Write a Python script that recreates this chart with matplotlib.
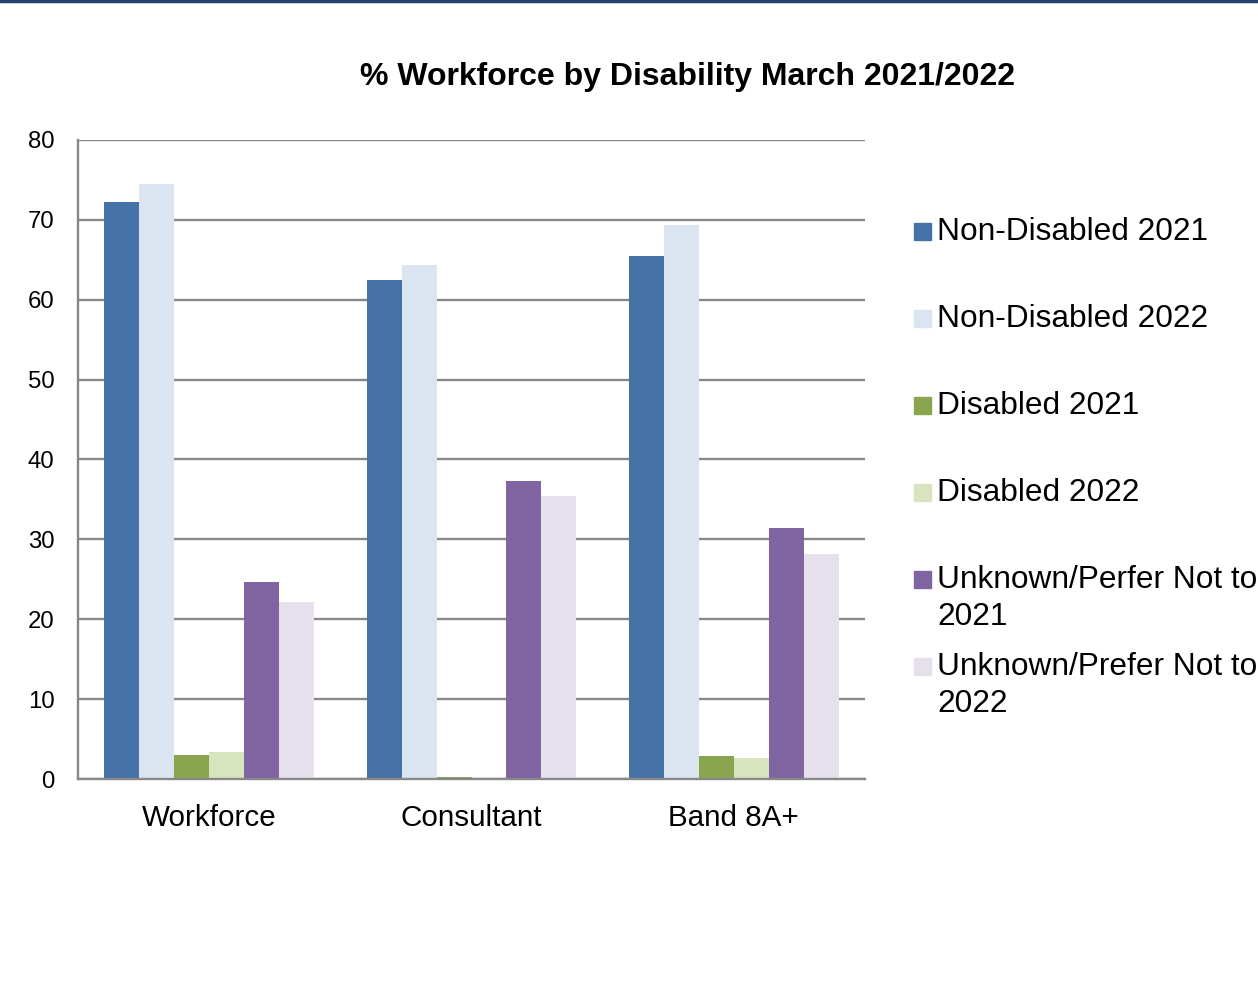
import matplotlib.pyplot as plt
import numpy as np
from matplotlib.patches import Rectangle
from matplotlib.lines import Line2D

plt.rcParams['font.family'] = ['Liberation Sans', 'DejaVu Sans']

categories = ['Workforce', 'Consultant', 'Band 8A+']
series_names = ['Non-Disabled 2021', 'Non-Disabled 2022', 'Disabled 2021',
                'Disabled 2022', 'Unknown/Perfer Not to\n2021', 'Unknown/Prefer Not to\n2022']
nondisabled_2021 = [72.2, 62.5, 65.5]
nondisabled_2022 = [74.5, 64.3, 69.3]
disabled_2021 = [3.0, 0.2, 2.9]
disabled_2022 = [3.4, 0.1, 2.6]
unknown_2021 = [24.7, 37.3, 31.4]
unknown_2022 = [22.2, 35.4, 28.2]
series = [nondisabled_2021, nondisabled_2022, disabled_2021,
          disabled_2022, unknown_2021, unknown_2022]
colors = ['#4572A7', '#DBE5F1', '#89A54E', '#D7E4BD', '#8064A2', '#E5E0EC']

fig = plt.figure(figsize=(12.58, 10.05), dpi=100)
ax = fig.add_axes([78/1258, 1-779/1005, (865-78)/1258, (779-140)/1005])

x = np.arange(len(categories))
w = 0.8 / 6
for i, (vals, c) in enumerate(zip(series, colors)):
    ax.bar(x - 0.4 + w*(i+0.5), vals, width=w, color=c, zorder=3)

ax.set_xlim(-0.5, 2.5)
ax.set_ylim(0, 80)
ax.set_yticks(range(0, 81, 10))
ax.set_xticks(x)
ax.set_xticklabels(categories, fontsize=21.3)
ax.tick_params(axis='y', length=0, pad=17, labelsize=17.3)
ax.tick_params(axis='x', length=0, pad=18)
ax.grid(axis='y', color='#888888', linewidth=1.7, zorder=0)
for s in ['top', 'right']:
    ax.spines[s].set_visible(False)
for s in ['left', 'bottom']:
    ax.spines[s].set_color('#888888')
    ax.spines[s].set_linewidth(1.7)
ax.spines['bottom'].set_zorder(4)

fig.text(688/1258, 1-77/1005, '% Workforce by Disability March 2021/2022',
         ha='center', va='center', fontsize=23, fontweight='bold')

# legend, drawn by hand so the text runs off the right edge like the original
for i, (name, c) in enumerate(zip(series_names, colors)):
    yc = 232 + 87*i
    fig.patches.append(Rectangle((914/1258, 1-(yc+8)/1005), 17/1258, 17/1005,
                                 transform=fig.transFigure, color=c))
    for j, ln in enumerate(name.split('\n')):
        fig.text(937/1258, 1-(yc+37*j)/1005, ln, ha='left', va='center', fontsize=22.8)

fig.lines.append(Line2D([0, 1], [1-1.5/1005, 1-1.5/1005], transform=fig.transFigure,
                        color='#24406E', linewidth=2.5))

fig.savefig('out.png', dpi=100)
